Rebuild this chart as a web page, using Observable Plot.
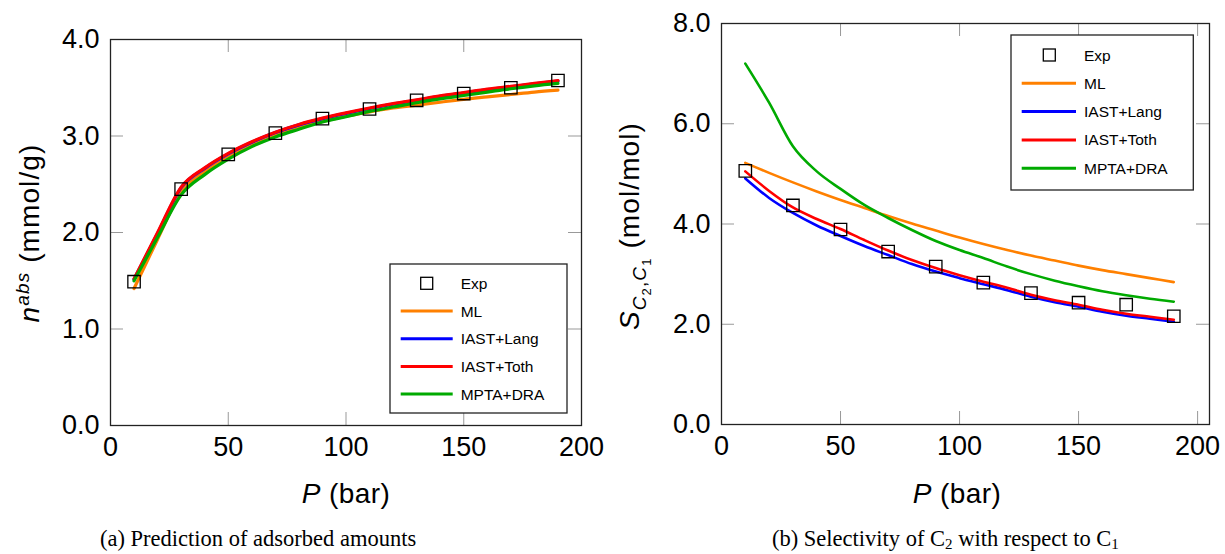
<!DOCTYPE html>
<html><head><meta charset="utf-8">
<script src="https://cdn.jsdelivr.net/npm/d3@7"></script>
<script src="https://cdn.jsdelivr.net/npm/@observablehq/plot@0.6"></script>
<style>
body{margin:0;background:#fff;}
#wrap{position:relative;width:1225px;height:554px;overflow:hidden;background:#fff;font-family:"Liberation Sans",Arial,sans-serif;color:#000;}
.panel{position:absolute;top:0;}
.ttl{position:absolute;font-size:28px;white-space:nowrap;line-height:1;color:#000;letter-spacing:0.4px;}
.yt{letter-spacing:1.1px;}
.cap{position:absolute;font-family:"Liberation Serif",serif;font-size:22.5px;line-height:22px;white-space:nowrap;color:#000;}
.cap .sb{font-size:15px;position:relative;top:3px;}
.ttl sup,.ttl sub{line-height:0;}
</style></head><body>
<div id="wrap">
  <div id="left" class="panel" style="left:0px"></div>
  <div id="right" class="panel" style="left:610px"></div>
  <div class="ttl" style="left:346px;top:494px;transform:translate(-50%,-50%)"><i>P</i>&nbsp;(bar)</div>
  <div class="ttl" style="left:957px;top:494px;transform:translate(-50%,-50%)"><i>P</i>&nbsp;(bar)</div>
  <div class="ttl yt" style="left:30px;top:233px;transform:translate(-50%,-50%) rotate(-90deg)"><i>n</i><sup style="font-size:19px"><i>abs</i></sup>&nbsp;(mmol/g)</div>
  <div class="ttl yt" style="left:631px;top:226px;transform:translate(-50%,-50%) rotate(-90deg)"><i>S</i><sub style="font-size:19px"><i>C</i><sub style="font-size:13px">2</sub>,<i>C</i><sub style="font-size:13px">1</sub></sub>&nbsp;(mol/mol)</div>
  <div class="cap" style="left:100px;top:528px">(a) Prediction of adsorbed amounts</div>
  <div class="cap" style="left:772px;top:528px">(b) Selectivity of C<span class="sb">2</span> with respect to C<span class="sb">1</span></div>
</div>
<script>
// ---------- data ----------
const seriesNames = ["ML", "IAST+Lang", "IAST+Toth", "MPTA+DRA"];
const seriesColors = ["#ff8000", "#0000ff", "#ff0000", "#00aa00"];

const pExp = [10, 30, 50, 70, 90, 110, 130, 150, 170, 190];
const pModel = [10, 20, 30, 40, 50, 60, 70, 80, 90, 100, 110, 120, 130, 140, 150, 160, 170, 180, 190];

// (a) adsorbed amounts, mmol/g
const nExp  = [1.49, 2.45, 2.81, 3.03, 3.18, 3.28, 3.37, 3.44, 3.50, 3.575];
const nML   = [1.42, 1.93, 2.42, 2.63, 2.78, 2.91, 3.01, 3.09, 3.15, 3.205, 3.25, 3.29, 3.32, 3.35, 3.38, 3.405, 3.43, 3.455, 3.475];
const nLang = [1.515, 1.99, 2.465, 2.665, 2.815, 2.935, 3.035, 3.115, 3.18, 3.235, 3.285, 3.33, 3.37, 3.41, 3.445, 3.48, 3.51, 3.54, 3.57];
const nToth = [1.52, 2.00, 2.47, 2.67, 2.82, 2.94, 3.04, 3.12, 3.185, 3.24, 3.29, 3.335, 3.375, 3.415, 3.45, 3.485, 3.515, 3.545, 3.575];
const nMPTA = [1.50, 1.95, 2.39, 2.60, 2.76, 2.89, 2.99, 3.07, 3.145, 3.20, 3.255, 3.30, 3.345, 3.385, 3.42, 3.455, 3.49, 3.52, 3.545];

// (b) selectivity C2/C1, mol/mol
const sExp  = [5.06, 4.37, 3.89, 3.45, 3.15, 2.83, 2.62, 2.43, 2.39, 2.16];
const sML   = [5.22, 5.02, 4.83, 4.65, 4.48, 4.32, 4.16, 4.01, 3.87, 3.73, 3.60, 3.48, 3.37, 3.27, 3.17, 3.08, 3.00, 2.92, 2.84];
const sLang = [4.91, 4.52, 4.22, 3.97, 3.76, 3.56, 3.38, 3.20, 3.05, 2.92, 2.80, 2.68, 2.55, 2.44, 2.35, 2.25, 2.17, 2.11, 2.05];
const sToth = [5.05, 4.66, 4.33, 4.10, 3.90, 3.68, 3.47, 3.28, 3.12, 2.98, 2.85, 2.73, 2.59, 2.48, 2.39, 2.29, 2.21, 2.15, 2.09];
const sMPTA = [7.20, 6.42, 5.55, 5.05, 4.70, 4.38, 4.12, 3.88, 3.66, 3.48, 3.32, 3.15, 3.00, 2.87, 2.76, 2.66, 2.58, 2.51, 2.45];

const xTicks = [0, 50, 100, 150, 200];
const yTicksA = [0, 1, 2, 3, 4];
const yTicksB = [0, 2, 4, 6, 8];

// ---------- drawing ----------
function panel(o) {
  const frameH = o.H - o.mT - o.mB, frameW = o.W - o.mL - o.mR, tl = 13;
  const lines = o.models.map((vals, i) =>
    Plot.line(pModel.map((p, j) => ({p, v: vals[j]})),
      {x: "p", y: "v", stroke: seriesColors[i], strokeWidth: o.lw, curve: "monotone-x"}));
  const exp = pExp.map((p, j) => ({p, v: o.exp[j]}));
  const svg = Plot.plot({
    width: o.W, height: o.H,
    marginLeft: o.mL, marginRight: o.mR, marginTop: o.mT, marginBottom: o.mB,
    style: {fontFamily: '"Liberation Sans", Arial, sans-serif', fontSize: "27px", color: "#000", background: "#fff", overflow: "visible"},
    x: {domain: o.xDomain, label: null},
    y: {domain: o.yDomain, label: null},
    marks: [
      Plot.ruleX(xTicks, {x: d => d, insetTop: frameH - tl, stroke: "#999", strokeWidth: 1}),
      Plot.ruleX(xTicks, {x: d => d, insetBottom: frameH - tl, stroke: "#999", strokeWidth: 1}),
      Plot.ruleY(o.yTicks, {y: d => d, insetRight: frameW - tl, stroke: "#999", strokeWidth: 1}),
      Plot.ruleY(o.yTicks, {y: d => d, insetLeft: frameW - tl, stroke: "#999", strokeWidth: 1}),
      ...lines,
      Plot.dot(exp, {x: "p", y: "v", symbol: "square", r: 7, stroke: "#000", fill: "none", strokeWidth: 1.3}),
      Plot.frame({stroke: "#222", strokeWidth: 1.3}),
      Plot.axisX({ticks: xTicks, tickSize: 0, tickPadding: 11, fontSize: 27, tickFormat: d => String(d), label: null}),
      Plot.axisY({ticks: o.yTicks, tickSize: 0, tickPadding: 11, fontSize: 27, tickFormat: d3.format(".1f"), label: null})
    ]
  });
  // legend
  const L = o.legend;
  const g = d3.select(svg).append("g").attr("text-anchor", "start");
  g.append("rect").attr("x", L.x).attr("y", L.y).attr("width", L.w).attr("height", L.h)
    .attr("fill", "#fff").attr("stroke", "#222").attr("stroke-width", 1.3);
  const labels = ["Exp", ...seriesNames];
  labels.forEach((lab, i) => {
    const yy = L.row0 + i * L.dy;
    if (i === 0) {
      const s = 12;
      g.append("rect").attr("x", L.sq - s / 2).attr("y", yy - s / 2).attr("width", s).attr("height", s)
        .attr("fill", "none").attr("stroke", "#000").attr("stroke-width", 1.3);
    } else {
      g.append("line").attr("x1", L.l1).attr("x2", L.l2).attr("y1", yy).attr("y2", yy)
        .attr("stroke", seriesColors[i - 1]).attr("stroke-width", 3);
    }
    g.append("text").attr("x", L.tx).attr("y", yy).attr("dy", "0.36em")
      .attr("text-anchor", "start")
      .attr("font-size", 15.5).attr("font-family", '"Liberation Sans", Arial, sans-serif')
      .attr("fill", "#000").text(lab);
  });
  return svg;
}

document.getElementById("left").appendChild(panel({
  W: 610, H: 500, mL: 110, mR: 29, mT: 39, mB: 75,
  xDomain: [0, 200], yDomain: [0, 4], yTicks: yTicksA, lw: 3.2,
  models: [nML, nLang, nToth, nMPTA], exp: nExp,
  legend: {x: 390, y: 264, w: 177, h: 149, row0: 283.3, dy: 27.7, l1: 400.7, l2: 452.7, sq: 426.7, tx: 460.7}
}));
document.getElementById("right").appendChild(panel({
  W: 615, H: 500, mL: 111, mR: 16, mT: 23, mB: 76,
  xDomain: [0, 205], yDomain: [0, 8], yTicks: yTicksB, lw: 2.6,
  models: [sML, sLang, sToth, sMPTA], exp: sExp,
  legend: {x: 401, y: 35, w: 182.3, h: 155, row0: 55, dy: 28.3, l1: 411.7, l2: 466, sq: 439.3, tx: 474}
}));
</script>
</body></html>
